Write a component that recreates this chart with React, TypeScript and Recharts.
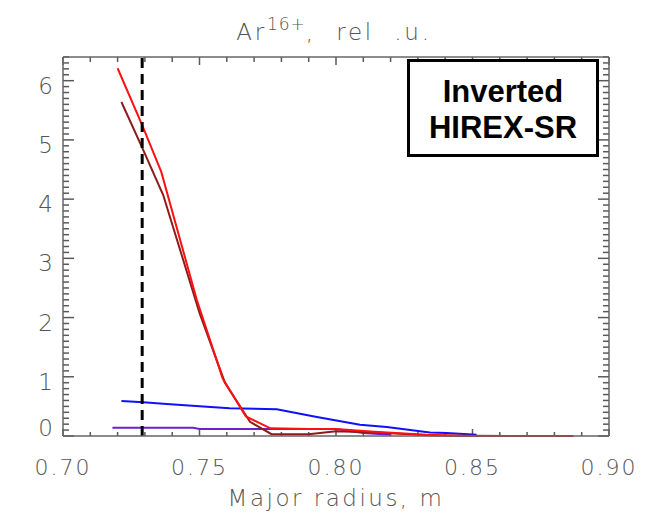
import { LineChart, Line, XAxis, YAxis, ReferenceLine } from 'recharts';

// Ar16+ emissivity profiles vs major radius (rel. units)
const redR = [0.72, 0.729, 0.736, 0.749, 0.7585, 0.767, 0.776, 0.79, 0.8, 0.814, 0.833, 0.85, 0.887];
const redV = [6.21, 5.25, 4.46, 2.3, 0.97, 0.33, 0.13, 0.12, 0.12, 0.07, 0.02, 0.0, 0.0];

const darkRedR = [0.7214, 0.7288, 0.7367, 0.75, 0.7593, 0.7685, 0.7764, 0.79, 0.8, 0.815, 0.835, 0.865];
const darkRedV = [5.64, 4.89, 4.07, 2.08, 0.9, 0.24, 0.03, 0.03, 0.08, 0.06, 0.01, 0.0];

const blueR = [0.7214, 0.7294, 0.738, 0.7514, 0.761, 0.7783, 0.793, 0.8088, 0.8186, 0.8344, 0.8405, 0.8515];
const blueV = [0.59, 0.57, 0.54, 0.5, 0.47, 0.45, 0.32, 0.19, 0.15, 0.06, 0.05, 0.02];

const purpleR = [0.7181, 0.7477, 0.75, 0.8, 0.81, 0.82];
const purpleV = [0.14, 0.14, 0.12, 0.12, 0.05, 0.02];

const xMajorTicks = [0.7, 0.75, 0.8, 0.85, 0.9];
const xMinorTicks = [
  0.7, 0.71, 0.72, 0.73, 0.74, 0.75, 0.76, 0.77, 0.78, 0.79, 0.8,
  0.81, 0.82, 0.83, 0.84, 0.85, 0.86, 0.87, 0.88, 0.89, 0.9,
];
const yMajorTicks = [0, 1, 2, 3, 4, 5, 6];
const yAllTicks = Array.from({ length: 65 }, (_, i) => i / 10);

const X_MIN = 0.7;
const X_MAX = 0.9;
const Y_MIN = 0;
const Y_MAX = 6.4;

const dashR = 0.729;

const toPoints = (r: number[], v: number[]) => r.map((x, i) => ({ r: x, v: v[i] }));

const FONT = '"DejaVu Sans", sans-serif';
const INK = '#555';
const TICK = '#5a5a5a';

// plot box is 546 x 379 px: convert inward tick lengths (px) to data units
const PX_X = (X_MAX - X_MIN) / 546;
const PX_Y = (Y_MAX - Y_MIN) / 379;

const isXMajor = (v: number) => xMajorTicks.some((m) => Math.abs(m - v) < 1e-6);
const isYMajor = (v: number) => yMajorTicks.some((m) => Math.abs(m - v) < 1e-6);

const BottomLabel = ({ x, y, payload }: any) =>
  isXMajor(payload.value) ? (
    <text x={x} y={Number(y) + 39} textAnchor="middle" fontFamily={FONT} fontWeight={200} fontSize={22} letterSpacing={2} fill={INK}>
      {payload.value.toFixed(2)}
    </text>
  ) : (
    <g />
  );

const LeftLabel = ({ x, y, payload }: any) =>
  isYMajor(payload.value) ? (
    <text x={Number(x) - 10} y={payload.value === 0 ? Number(y) : Number(y) + 13} textAnchor="end" fontFamily={FONT} fontWeight={200} fontSize={23} fill={INK}>
      {Math.round(payload.value)}
    </text>
  ) : (
    <g />
  );

const axisLine = { stroke: '#666', strokeWidth: 1.5 };

export default function App() {
  return (
    <div style={{ position: 'fixed', left: 0, top: 0, width: 646, height: 518, background: '#fff', overflow: 'hidden' }}>
      <LineChart width={646} height={518} margin={{ top: 56, right: 36, bottom: 81, left: 62 }}>
        <XAxis xAxisId="b" dataKey="r" type="number" domain={[X_MIN, X_MAX]} ticks={xMajorTicks} interval={0} height={1} tickSize={0} tickMargin={0} tickLine={false} axisLine={axisLine} tick={BottomLabel} />
        <XAxis xAxisId="t" orientation="top" dataKey="r" type="number" domain={[X_MIN, X_MAX]} height={1} tickLine={false} axisLine={axisLine} tick={false} />
        <YAxis yAxisId="l" type="number" domain={[Y_MIN, Y_MAX]} ticks={yMajorTicks} interval={0} width={1} tickSize={0} tickMargin={0} tickLine={false} axisLine={axisLine} tick={LeftLabel} />
        <YAxis yAxisId="r" orientation="right" type="number" domain={[Y_MIN, Y_MAX]} width={1} tickLine={false} axisLine={axisLine} tick={false} />

        {/* inward frame ticks: bottom and top */}
        {xMinorTicks.map((t) => {
          const len = (isXMajor(t) ? 7 : 4) * PX_Y;
          return (
            <ReferenceLine key={`xb${t}`} xAxisId="b" yAxisId="l" segment={[{ x: t, y: Y_MIN }, { x: t, y: Y_MIN + len }]} stroke={TICK} strokeWidth={1.5} />
          );
        })}
        {xMinorTicks.map((t) => {
          const len = (isXMajor(t) ? 8 : 5) * PX_Y;
          return (
            <ReferenceLine key={`xt${t}`} xAxisId="b" yAxisId="l" segment={[{ x: t, y: Y_MAX }, { x: t, y: Y_MAX - len }]} stroke={TICK} strokeWidth={1.5} />
          );
        })}
        {/* inward frame ticks: left and right */}
        {yAllTicks.map((t) => {
          const len = (isYMajor(t) ? 11 : 6) * PX_X;
          return (
            <ReferenceLine key={`yl${t}`} xAxisId="b" yAxisId="l" segment={[{ x: X_MIN, y: t }, { x: X_MIN + len, y: t }]} stroke={TICK} strokeWidth={1.5} />
          );
        })}
        {yAllTicks.map((t) => {
          const len = (isYMajor(t) ? 11 : 6) * PX_X;
          return (
            <ReferenceLine key={`yr${t}`} xAxisId="b" yAxisId="l" segment={[{ x: X_MAX, y: t }, { x: X_MAX - len, y: t }]} stroke={TICK} strokeWidth={1.5} />
          );
        })}

        <Line xAxisId="b" yAxisId="l" data={toPoints(purpleR, purpleV)} dataKey="v" stroke="#6a22cc" strokeWidth={2} dot={false} isAnimationActive={false} />
        <Line xAxisId="b" yAxisId="l" data={toPoints(blueR, blueV)} dataKey="v" stroke="#1010ff" strokeWidth={2} dot={false} isAnimationActive={false} />
        <Line xAxisId="b" yAxisId="l" data={toPoints(darkRedR, darkRedV)} dataKey="v" stroke="#8e1a1a" strokeWidth={2} dot={false} isAnimationActive={false} />
        <Line xAxisId="b" yAxisId="l" data={toPoints(redR, redV)} dataKey="v" stroke="#ff1010" strokeWidth={2} dot={false} isAnimationActive={false} />
        <Line xAxisId="t" yAxisId="r" data={toPoints(redR, redV)} dataKey="v" stroke="none" dot={false} activeDot={false} isAnimationActive={false} />
        <ReferenceLine
          xAxisId="b"
          yAxisId="l"
          segment={[{ x: dashR, y: Y_MIN }, { x: dashR, y: Y_MAX }]}
          stroke="#000"
          strokeWidth={3}
          strokeDasharray="10 6"
        />
      </LineChart>

      <div
        style={{
          position: 'absolute',
          left: 0,
          width: 646,
          top: 19,
          textAlign: 'center',
          fontFamily: FONT,
          fontWeight: 200,
          fontSize: 23,
          letterSpacing: 2.8,
          color: INK,
          whiteSpace: 'pre',
          paddingLeft: 22,
          boxSizing: 'border-box',
        }}
      >
        Ar<sup style={{ fontSize: 17, verticalAlign: 'top', position: 'relative', top: -5, letterSpacing: 1 }}>16+</sup>,  rel  .u.
      </div>

      <div
        style={{
          position: 'absolute',
          left: 0,
          width: 646,
          top: 485,
          textAlign: 'center',
          fontFamily: FONT,
          fontWeight: 200,
          fontSize: 23,
          letterSpacing: 2.5,
          color: INK,
          paddingLeft: 26,
          boxSizing: 'border-box',
        }}
      >
        Major radius, m
      </div>

      <div
        style={{
          position: 'absolute',
          left: 407,
          top: 59,
          width: 186,
          height: 80,
          border: '3px solid #000',
          background: '#fff',
          fontFamily: '"Liberation Sans", Arial, sans-serif',
          fontWeight: 700,
          fontSize: 31,
          lineHeight: '36px',
          textAlign: 'center',
          paddingTop: 12,
          boxSizing: 'content-box',
        }}
      >
        Inverted
        <br />
        HIREX-SR
      </div>
    </div>
  );
}
